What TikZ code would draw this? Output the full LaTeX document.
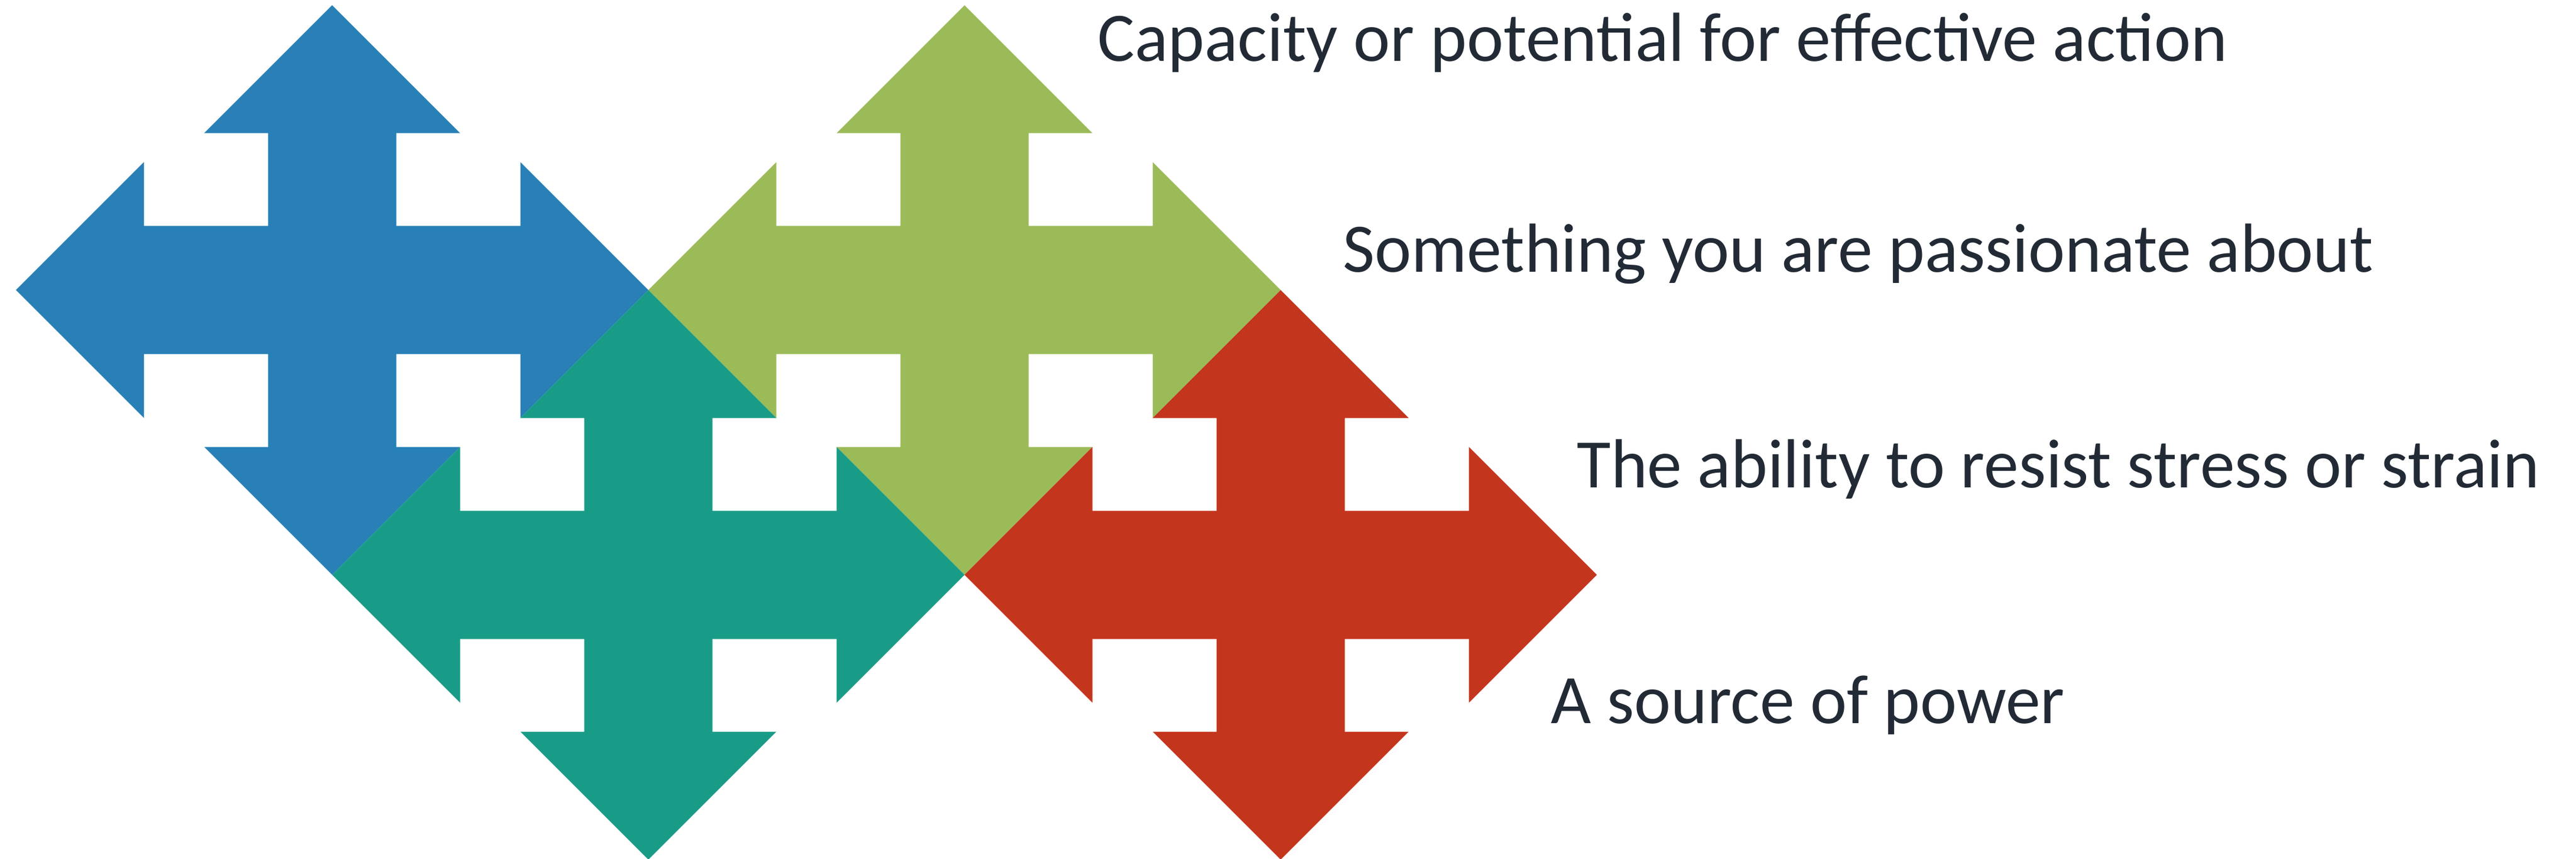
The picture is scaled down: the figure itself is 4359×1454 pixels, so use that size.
\documentclass[tikz,border=0pt]{standalone}
\usepackage{fontspec}
\setmainfont{Carlito}
\definecolor{cblue}{RGB}{40,128,182}
\definecolor{cgreen}{RGB}{155,187,89}
\definecolor{cteal}{RGB}{25,156,135}
\definecolor{cred}{RGB}{196,53,29}
\definecolor{ctext}{RGB}{34,42,53}
\newcommand\crossarrow[3]{%
  \fill[#1,shift={(#2,#3)}]
    (0,-482) -- (216.5,-265.5) -- (108.5,-265.5) -- (108.5,-108.5) -- (318.5,-108.5) -- (318.5,-216.5)
    -- (535,0) -- (318.5,216.5) -- (318.5,108.5) -- (108.5,108.5) -- (108.5,265.5) -- (216.5,265.5)
    -- (0,482) -- (-216.5,265.5) -- (-108.5,265.5) -- (-108.5,108.5) -- (-318.5,108.5) -- (-318.5,216.5)
    -- (-535,0) -- (-318.5,-216.5) -- (-318.5,-108.5) -- (-108.5,-108.5) -- (-108.5,-265.5) -- (-216.5,-265.5)
    -- cycle;}
\tikzset{label text/.style={anchor=base west, inner sep=0pt, text=ctext, font=\fontsize{29.4}{35}\selectfont}}
\begin{document}
\begin{tikzpicture}[x=0.25pt,y=-0.25pt]
\useasboundingbox (0,0) rectangle (4359,1454);
\crossarrow{cblue}{562}{491}
\crossarrow{cgreen}{1632}{491}
\crossarrow{cteal}{1097}{973}
\crossarrow{cred}{2167}{973}
\node[label text] (t1) at (1857,103.5) {Capacity or potential for effective action};
\node[label text] (t2) at (2272,461) {Something you are passionate about};
\node[label text] (t3) at (2668,825) {The ability to resist stress or strain};
\node[label text] (t4) at (2624,1224) {A source of power};
\end{tikzpicture}
\end{document}
